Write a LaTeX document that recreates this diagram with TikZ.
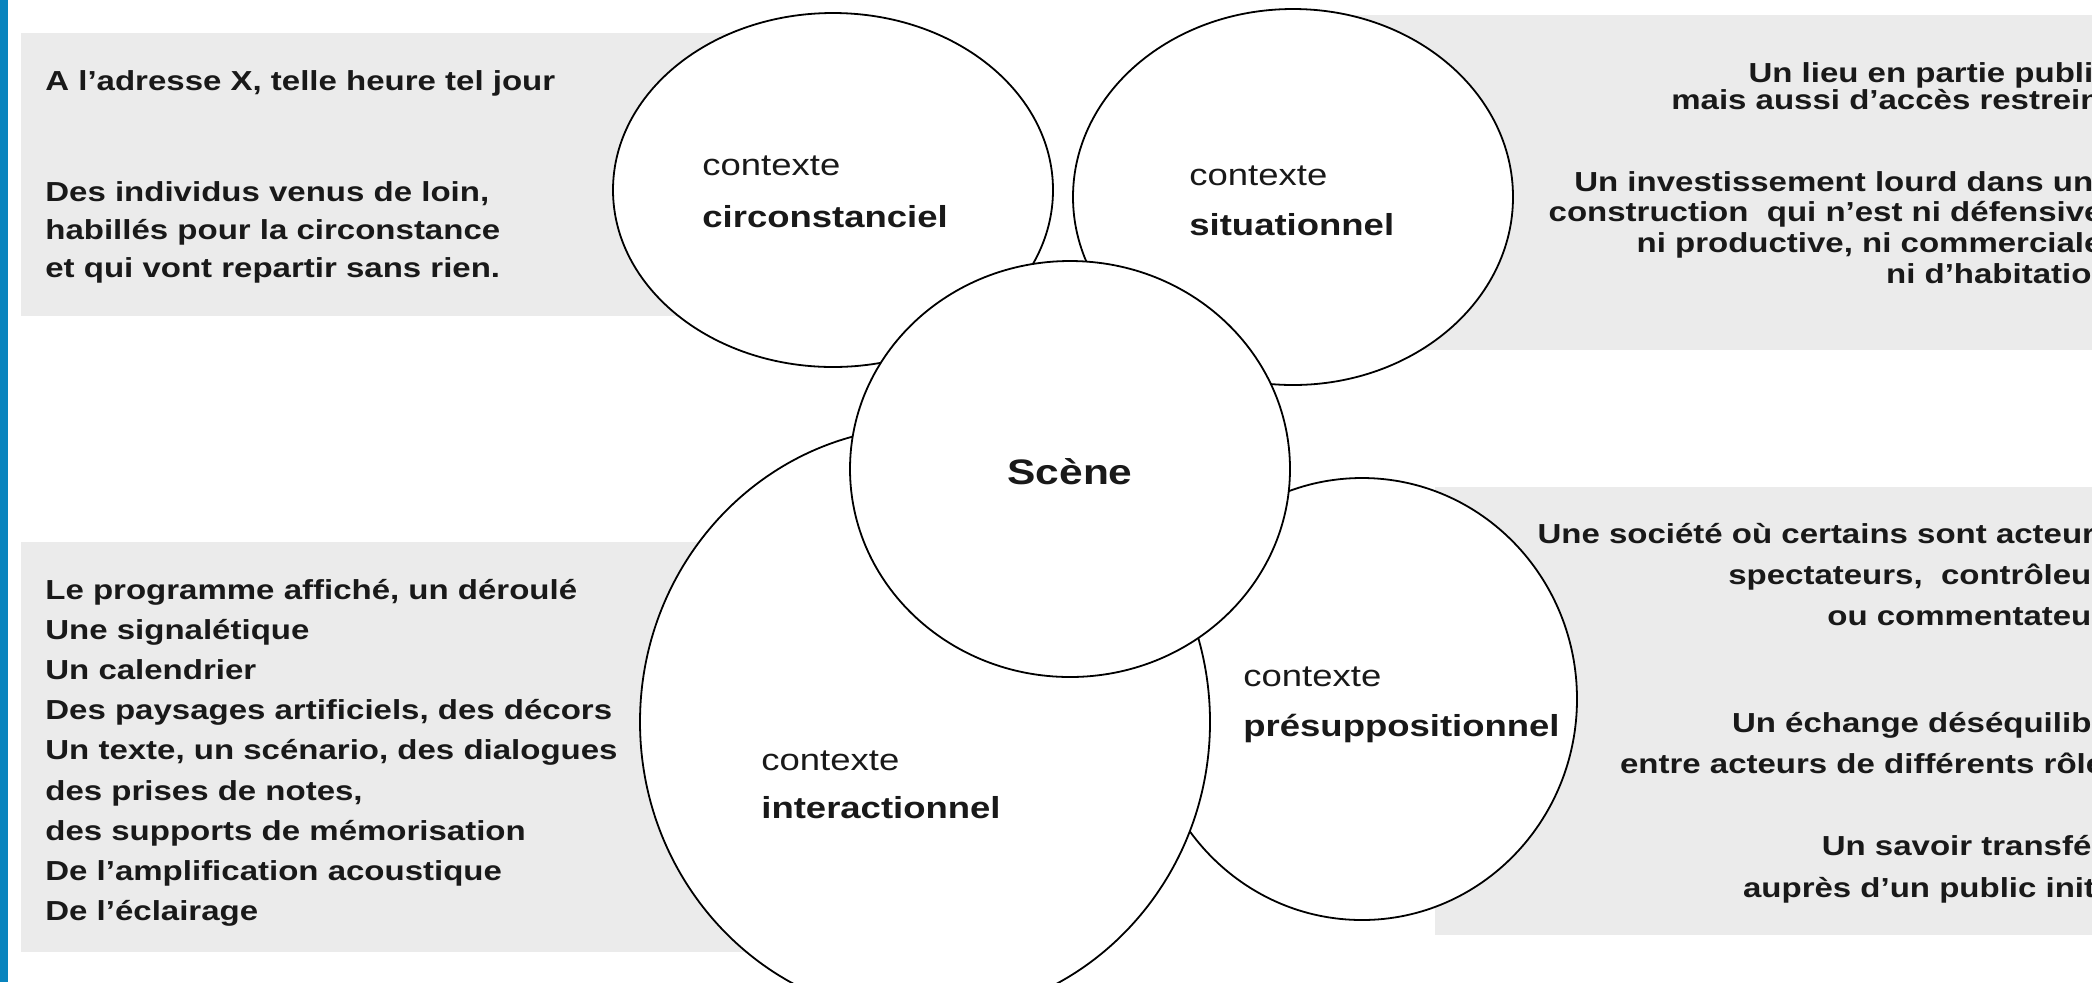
\documentclass[tikz,border=0pt]{standalone}
\usepackage{fontspec}
\setmainfont{Liberation Sans}
\newfontfamily\wfont[FakeStretch=1.2]{Liberation Sans}
\usetikzlibrary{shapes.geometric}
\definecolor{barblue}{RGB}{8,132,190}
\definecolor{boxgray}{RGB}{235,235,235}
\definecolor{ink}{RGB}{25,25,25}
\tikzset{
  ctx/.style={ellipse, draw=black, line width=0.9pt, fill=white, inner sep=0pt},
  boxtxt/.style={inner sep=0pt, text=ink, font=\wfont\bfseries\fontsize{13.75}{16}\selectfont},
  lbl/.style={inner sep=0pt, text=ink, anchor=base west, font=\wfont\fontsize{15.2}{18}\selectfont},
  lblb/.style={inner sep=0pt, text=ink, anchor=base west, font=\wfont\bfseries\fontsize{15.2}{18}\selectfont},
  scenetxt/.style={inner sep=0pt, text=ink, anchor=base, font=\wfont\bfseries\fontsize{17.7}{20}\selectfont},
  lefttxt/.style={boxtxt, anchor=base west},
  righttxt/.style={boxtxt, anchor=base east},
}
\begin{document}
\begin{tikzpicture}[x=0.5pt,y=-0.5pt]
\useasboundingbox (0,0) rectangle (2092,982);
\clip (0,0) rectangle (2092,982);
\fill[white] (0,0) rectangle (2092,982);
\fill[barblue] (0,0) rectangle (8,982);
% gray panels
\fill[boxgray] (21,33) rectangle (800,316);
\fill[boxgray] (1300,15) rectangle (2092,350);
\fill[boxgray] (21,542) rectangle (800,952);
\fill[boxgray] (1435,487) rectangle (2092,935);
% ellipses
\node[ctx, minimum width=220pt, minimum height=177pt] (circ) at (833,190) {};
\node[ctx, minimum width=220pt, minimum height=188pt] (situ) at (1293,197) {};
\node[ctx, minimum width=215pt, minimum height=221pt] (presup) at (1362,699) {};
\node[ctx, minimum width=285pt, minimum height=295pt] (inter) at (925,722) {};
\node[ctx, minimum width=220pt, minimum height=208pt] (scene) at (1070,469) {};
% circle labels
\node[lbl]  (circa) at (702,175) {contexte};
\node[lblb] (circb) at (702,227) {circonstanciel};
\node[lbl]  (situa) at (1189,185) {contexte};
\node[lblb] (situb) at (1189,235) {situationnel};
\node[lbl]  (intera) at (761,770) {contexte};
\node[lblb] (interb) at (761,818) {interactionnel};
\node[lbl]  (presupa) at (1243,686) {contexte};
\node[lblb] (presupb) at (1243,736) {présuppositionnel};
\node[scenetxt] (scenet) at (1070,484) {Scène};
% top-left text
\node[lefttxt] (tl1) at (45,90)  {A l’adresse X, telle heure tel jour};
\node[lefttxt] (tl2) at (45,201) {Des individus venus de loin,};
\node[lefttxt] (tl3) at (45,239) {habillés pour la circonstance};
\node[lefttxt] (tl4) at (45,277) {et qui vont repartir sans rien.};
% top-right text
\node[righttxt] (tr1) at (2112,82)  {Un lieu en partie public};
\node[righttxt] (tr2) at (2112,109) {mais aussi d’accès restreint};
\node[righttxt] (tr3) at (2112,191) {Un investissement lourd dans une};
\node[righttxt] (tr4) at (2112,221) {construction\ \ qui n’est ni défensive,};
\node[righttxt] (tr5) at (2112,252) {ni productive, ni commerciale,};
\node[righttxt] (tr6) at (2112,283) {ni d’habitation};
% bottom-left text
\node[lefttxt] (bl1) at (45,599) {Le programme affiché, un déroulé};
\node[lefttxt] (bl2) at (45,639) {Une signalétique};
\node[lefttxt] (bl3) at (45,679) {Un calendrier};
\node[lefttxt] (bl4) at (45,719) {Des paysages artificiels, des décors};
\node[lefttxt] (bl5) at (45,759) {Un texte, un scénario, des dialogues};
\node[lefttxt] (bl6) at (45,800) {des prises de notes,};
\node[lefttxt] (bl7) at (45,840) {des supports de mémorisation};
\node[lefttxt] (bl8) at (45,880) {De l’amplification acoustique};
\node[lefttxt] (bl9) at (45,920) {De l’éclairage};
% bottom-right text
\node[righttxt] (br1) at (2123,543) {Une société où certains sont acteurs,};
\node[righttxt] (br2) at (2123,584) {spectateurs,\ \ contrôleurs};
\node[righttxt] (br3) at (2123,625) {ou commentateurs};
\node[righttxt] (br4) at (2123,732) {Un échange déséquilibré};
\node[righttxt] (br5) at (2123,773) {entre acteurs de différents rôles};
\node[righttxt] (br6) at (2123,855) {Un savoir transféré};
\node[righttxt] (br7) at (2123,897) {auprès d’un public initié};
\end{tikzpicture}
\end{document}
